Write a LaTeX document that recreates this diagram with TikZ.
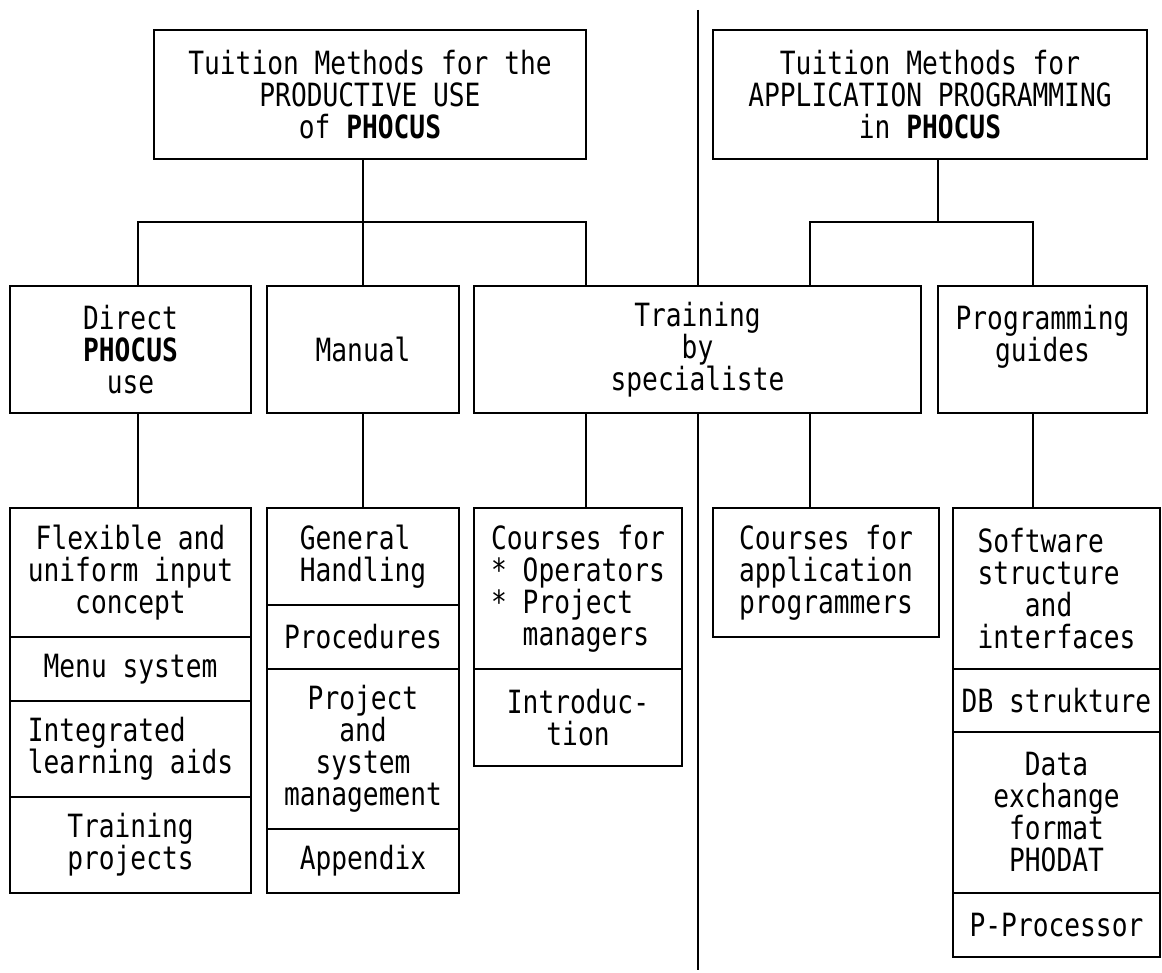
\documentclass[tikz,border=0pt]{standalone}
\usepackage{fontspec}
\newfontfamily\scanfont[FakeStretch=0.82]{DejaVu Sans Mono}
\begin{document}
\begin{tikzpicture}[x=1pt, y=-1pt,
	box/.style={draw, line width=2.4pt, rectangle, anchor=north west, inner sep=0pt, outer sep=0pt, align=center, font=\scanfont\fontsize{32pt}{32pt}\selectfont},
	link/.style={line width=2.4pt}]
    	\useasboundingbox (0,0) rectangle (1162,973);

    	% top level
    	\node [box, minimum width=432pt, minimum height=129pt] (TopLeft) at (154,30) {Tuition Methods for the\\PRODUCTIVE USE\\of \textbf{PHOCUS}};
    	\node [box, minimum width=434pt, minimum height=129pt] (TopRight) at (713,30) {Tuition Methods for\\APPLICATION PROGRAMMING\\in \textbf{PHOCUS}};

    	% second level
    	\node [box, minimum width=241pt, minimum height=127pt] (Direct) at (10,286) {Direct\\\textbf{PHOCUS}\\use};
    	\node [box, minimum width=192pt, minimum height=127pt] (Manual) at (267,286) {Manual};
    	\node [box, minimum width=447pt, minimum height=127pt] (Training) at (474,286) {Training\\by\\specialiste};
    	\node [box, minimum width=209pt, minimum height=127pt] (Prog) at (938,286) {Programming\\guides\\\mbox{}};

    	% columns
    	\node [box, minimum width=241pt, minimum height=129pt] (Flexible) at (10,508) {Flexible and\\uniform input\\concept};
    	\node [box, minimum width=241pt, minimum height=64pt] (Menu) at (10,637) {Menu system};
    	\node [box, minimum width=241pt, minimum height=96pt, align=left] (Aids) at (10,701) {Integrated\\learning aids};
    	\node [box, minimum width=241pt, minimum height=96pt] (Projects) at (10,797) {Training\\projects};

    	\node [box, minimum width=192pt, minimum height=97pt, align=left] (Handling) at (267,508) {General\\Handling};
    	\node [box, minimum width=192pt, minimum height=64pt] (Procedures) at (267,605) {Procedures};
    	\node [box, minimum width=192pt, minimum height=160pt] (SysMgmt) at (267,669) {Project\\and\\system\\management};
    	\node [box, minimum width=192pt, minimum height=64pt] (Appendix) at (267,829) {Appendix};

    	\node [box, minimum width=208pt, minimum height=161pt, align=left] (Courses) at (474,508) {Courses for\\* Operators\\* Project\\\phantom{* }managers};
    	\node [box, minimum width=208pt, minimum height=97pt] (Intro) at (474,669) {Introduc-\\tion};

    	\node [box, minimum width=226pt, minimum height=129pt, align=left] (AppCourses) at (713,508) {Courses for\\application\\programmers};

    	\node [box, minimum width=207pt, minimum height=161pt, align=left] (Software) at (953,508) {Software\\structure\\\phantom{str}and\\interfaces};
    	\node [box, minimum width=207pt, minimum height=63pt] (DBStruct) at (953,669) {DB strukture};
    	\node [box, minimum width=207pt, minimum height=161pt] (Exchange) at (953,732) {Data\\exchange\\format\\PHODAT};
    	\node [box, minimum width=207pt, minimum height=64pt] (PProc) at (953,893) {P-Processor};

    		\coordinate (LeftBarW) at (138,222);
    		\coordinate (LeftBarE) at (586,222);
    		\coordinate (RightBarW) at (810,222);
    		\coordinate (RightBarE) at (1033,222);
    		\coordinate (DivTop) at (698,10);
    		\coordinate (DivBot) at (698,970);
    		\draw [link] (TopLeft.south -| Manual.north) -- (Manual.north);% left stem
    		\draw [link] (LeftBarW |- Direct.north) -- (LeftBarW) -- (LeftBarE) -- (LeftBarE |- Training.north);
    		\draw [link] (TopRight.south -| Prog.north west) -- (RightBarW -| Prog.north west);% right stem
    		\draw [link] (RightBarW |- Training.north) -- (RightBarW) -- (RightBarE) -- (RightBarE |- Prog.north);
    		\draw [link] (DivTop) -- (DivTop |- Training.north);% divider
    		\draw [link] (DivTop |- Training.south) -- (DivBot);
    		\draw [link] (LeftBarW |- Direct.south) -- (LeftBarW |- Flexible.north);
    		\draw [link] (Manual.south) -- (Handling.north);
    		\draw [link] (LeftBarE |- Training.south) -- (LeftBarE |- Courses.north);
    		\draw [link] (RightBarW |- Training.south) -- (RightBarW |- AppCourses.north);
    		\draw [link] (RightBarE |- Prog.south) -- (RightBarE |- Software.north);
\end{tikzpicture}
\end{document}
